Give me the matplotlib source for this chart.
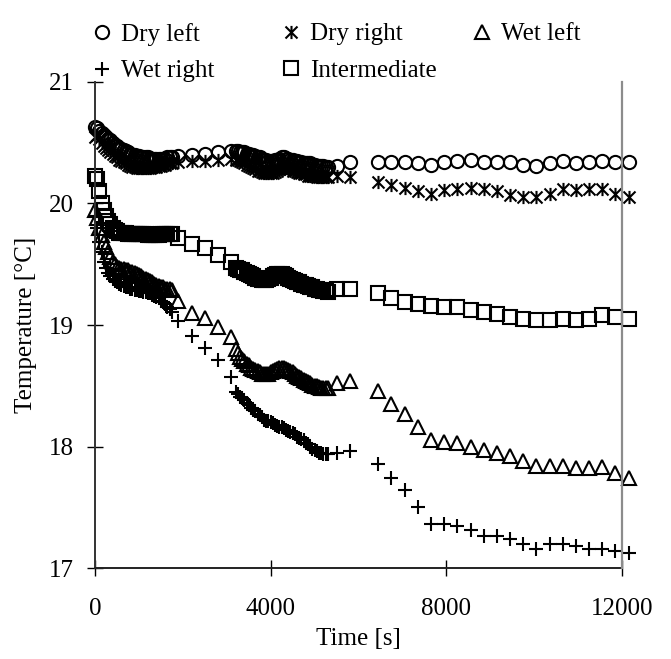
import matplotlib
matplotlib.use('Agg')
import matplotlib.pyplot as plt
from matplotlib.path import Path

plt.rcParams['font.family'] = ['Liberation Serif', 'DejaVu Serif']
plt.rcParams['font.size'] = 18

# sampling times [s]: dense logging, a few sparse points, a gap, then sparse logging
time_s = [0, 50, 100, 150, 200, 250, 300, 350, 400, 450,
          500, 550, 600, 650, 700, 750, 800, 850, 900, 950,
          1000, 1050, 1100, 1150, 1200, 1250, 1300, 1350, 1400, 1450,
          1500, 1550, 1600, 1650, 1700, 1750,
          1900, 2200, 2500, 2800, 3100,
          3200, 3250, 3300, 3350, 3400, 3450, 3500, 3550, 3600, 3650,
          3700, 3750, 3800, 3850, 3900, 3950, 4000, 4050, 4100, 4150,
          4200, 4250, 4300, 4350, 4400, 4450, 4500, 4550, 4600, 4650,
          4700, 4750, 4800, 4850, 4900, 4950, 5000, 5050, 5100, 5150,
          5200, 5250, 5300,
          5500, 5800,
          6450, 6750, 7050, 7350, 7650, 7950, 8250, 8550, 8850, 9150,
          9450, 9750, 10050, 10350, 10650, 10950, 11250, 11550, 11850, 12150]

dry_left = [20.63, 20.62, 20.60, 20.58, 20.56, 20.55, 20.53, 20.52, 20.50, 20.48,
            20.47, 20.46, 20.45, 20.44, 20.43, 20.42, 20.41, 20.40, 20.40, 20.39,
            20.39, 20.38, 20.38, 20.38, 20.38, 20.37, 20.37, 20.37, 20.37, 20.37,
            20.37, 20.37, 20.37, 20.38, 20.38, 20.38,
            20.39, 20.40, 20.41, 20.42, 20.43,
            20.43, 20.43, 20.42, 20.42, 20.42, 20.41, 20.41, 20.40, 20.40, 20.39,
            20.38, 20.38, 20.37, 20.36, 20.36, 20.35, 20.35, 20.35, 20.36, 20.36,
            20.37, 20.38, 20.38, 20.37, 20.37, 20.36, 20.36, 20.35, 20.35, 20.34,
            20.34, 20.33, 20.33, 20.33, 20.33, 20.32, 20.32, 20.31, 20.31, 20.31,
            20.31, 20.30, 20.30,
            20.31, 20.34,
            20.34, 20.34, 20.34, 20.33, 20.32, 20.34, 20.35, 20.36, 20.34, 20.34,
            20.34, 20.32, 20.31, 20.33, 20.35, 20.33, 20.34, 20.35, 20.34, 20.34]

dry_right = [20.55, 20.56, 20.53, 20.50, 20.47, 20.46, 20.44, 20.42, 20.41, 20.39,
             20.38, 20.36, 20.35, 20.34, 20.33, 20.32, 20.31, 20.30, 20.30, 20.29,
             20.29, 20.29, 20.29, 20.29, 20.29, 20.29, 20.30, 20.30, 20.30, 20.31,
             20.31, 20.32, 20.32, 20.33, 20.33, 20.33,
             20.34, 20.35, 20.35, 20.36, 20.37,
             20.36, 20.36, 20.35, 20.34, 20.33, 20.32, 20.31, 20.30, 20.29, 20.28,
             20.27, 20.27, 20.26, 20.25, 20.25, 20.25, 20.25, 20.25, 20.26, 20.27,
             20.28, 20.29, 20.29, 20.29, 20.28, 20.28, 20.27, 20.27, 20.26, 20.25,
             20.25, 20.24, 20.24, 20.23, 20.23, 20.23, 20.23, 20.22, 20.22, 20.22,
             20.22, 20.22, 20.22,
             20.23, 20.22,
             20.18, 20.15, 20.13, 20.10, 20.08, 20.11, 20.12, 20.13, 20.12, 20.10,
             20.07, 20.05, 20.05, 20.08, 20.12, 20.11, 20.12, 20.12, 20.08, 20.05]

wet_left = [19.95, 19.88, 19.80, 19.74, 19.68, 19.64, 19.60, 19.56, 19.52, 19.50,
            19.48, 19.47, 19.46, 19.46, 19.45, 19.45, 19.44, 19.44, 19.43, 19.42,
            19.41, 19.40, 19.39, 19.38, 19.37, 19.36, 19.35, 19.34, 19.33, 19.32,
            19.31, 19.31, 19.30, 19.30, 19.30, 19.29,
            19.20, 19.10, 19.06, 18.98, 18.90,
            18.80, 18.77, 18.74, 18.72, 18.70, 18.68, 18.67, 18.65, 18.64, 18.63,
            18.62, 18.61, 18.60, 18.60, 18.60, 18.60, 18.61, 18.62, 18.63, 18.64,
            18.65, 18.65, 18.65, 18.64, 18.63, 18.62, 18.61, 18.60, 18.58, 18.57,
            18.56, 18.55, 18.54, 18.53, 18.52, 18.51, 18.50, 18.50, 18.49, 18.48,
            18.48, 18.48, 18.48,
            18.52, 18.54,
            18.46, 18.35, 18.27, 18.16, 18.05, 18.04, 18.03, 18.00, 17.97, 17.95,
            17.92, 17.88, 17.84, 17.84, 17.84, 17.82, 17.82, 17.83, 17.78, 17.74]

wet_right = [19.90, 19.80, 19.68, 19.60, 19.52, 19.47, 19.43, 19.40, 19.38, 19.36,
             19.35, 19.34, 19.33, 19.32, 19.31, 19.31, 19.30, 19.30, 19.29, 19.29,
             19.28, 19.28, 19.27, 19.27, 19.26, 19.26, 19.25, 19.24, 19.23, 19.22,
             19.20, 19.19, 19.17, 19.15, 19.13, 19.11,
             19.03, 18.91, 18.81, 18.71, 18.57,
             18.45, 18.43, 18.41, 18.40, 18.38, 18.36, 18.34, 18.32, 18.30, 18.29,
             18.27, 18.26, 18.24, 18.22, 18.21, 18.21, 18.20, 18.19, 18.18, 18.17,
             18.16, 18.16, 18.15, 18.14, 18.13, 18.12, 18.11, 18.10, 18.08, 18.07,
             18.06, 18.05, 18.03, 18.02, 18.00, 17.98, 17.97, 17.96, 17.95, 17.95,
             17.94, 17.94, 17.94,
             17.95, 17.96,
             17.86, 17.74, 17.64, 17.50, 17.36, 17.36, 17.35, 17.31, 17.26, 17.26,
             17.24, 17.20, 17.16, 17.20, 17.20, 17.18, 17.16, 17.16, 17.14, 17.12]

intermediate = [20.23, 20.20, 20.10, 20.00, 19.95, 19.90, 19.86, 19.83, 19.80, 19.78,
                19.77, 19.76, 19.76, 19.76, 19.76, 19.75, 19.75, 19.75, 19.75, 19.75,
                19.75, 19.75, 19.75, 19.75, 19.74, 19.74, 19.74, 19.74, 19.74, 19.74,
                19.75, 19.75, 19.75, 19.75, 19.75, 19.75,
                19.72, 19.67, 19.63, 19.58, 19.52,
                19.47, 19.46, 19.45, 19.45, 19.44, 19.43, 19.42, 19.41, 19.40, 19.39,
                19.38, 19.38, 19.37, 19.37, 19.37, 19.38, 19.39, 19.40, 19.41, 19.42,
                19.42, 19.42, 19.41, 19.40, 19.39, 19.38, 19.37, 19.36, 19.35, 19.35,
                19.34, 19.33, 19.33, 19.32, 19.31, 19.31, 19.30, 19.30, 19.29, 19.29,
                19.28, 19.28, 19.27,
                19.30, 19.30,
                19.26, 19.22, 19.19, 19.17, 19.16, 19.15, 19.15, 19.12, 19.11, 19.09,
                19.07, 19.05, 19.04, 19.04, 19.05, 19.04, 19.05, 19.08, 19.07, 19.05]

x_ticks = [0, 4000, 8000, 12000]
y_ticks = [17, 18, 19, 20, 21]

# excel style star: X with a vertical bar
star = Path([(-1, -1), (1, 1), (-1, 1), (1, -1), (0, -1.1), (0, 1.1)],
            [Path.MOVETO, Path.LINETO, Path.MOVETO, Path.LINETO, Path.MOVETO, Path.LINETO])

fig = plt.figure(figsize=(6.71, 6.59), dpi=100)
ax = fig.add_axes([0.1416, 0.138, 0.7854, 0.7376])

kw = dict(linestyle='none', mfc='none', mec='black', color='black', mew=1.5, ms=9.5, clip_on=False)
h_dl, = ax.plot(time_s, dry_left, marker='o', label='Dry left', **kw)
h_dr, = ax.plot(time_s, dry_right, marker=star, label='Dry right', **kw)
h_wl, = ax.plot(time_s, wet_left, marker='^', label='Wet left', **kw)
h_wr, = ax.plot(time_s, wet_right, marker='+', label='Wet right', **kw)
h_im, = ax.plot(time_s, intermediate, marker='s', label='Intermediate', **kw)

ax.set_xlim(0, 12000)
ax.set_ylim(17, 21)
ax.set_xticks(x_ticks)
ax.set_yticks(y_ticks)
ax.tick_params(axis='x', direction='inout', length=11, width=1, pad=16)
ax.tick_params(axis='y', direction='inout', length=11, width=1, pad=10)

ax.spines['top'].set_visible(False)
ax.spines['right'].set_color('#8c8c8c')
ax.spines['right'].set_linewidth(1.6)
ax.spines['right'].set_zorder(5)
ax.spines['left'].set_color('#333333')
ax.spines['left'].set_linewidth(1.4)
ax.spines['bottom'].set_color('#222222')
ax.spines['bottom'].set_linewidth(1.4)

ax.set_xlabel('Time [s]', labelpad=6)
ax.set_ylabel('Temperature [°C]', labelpad=8)

# three legend columns laid out like the original
cols = [([h_dl, h_wr], 0.117), ([h_dr, h_im], 0.399), ([h_wl], 0.683)]
for handles, x0 in cols:
    fig.legend(handles=handles, loc='upper left', bbox_to_anchor=(x0, 0.988), frameon=False,
               prop={'family': 'Liberation Serif', 'size': 18},
               handlelength=0.7, handletextpad=0.4, labelspacing=0.56, borderpad=0.3,
               borderaxespad=0.3)

fig.savefig('out.png', dpi=100)
